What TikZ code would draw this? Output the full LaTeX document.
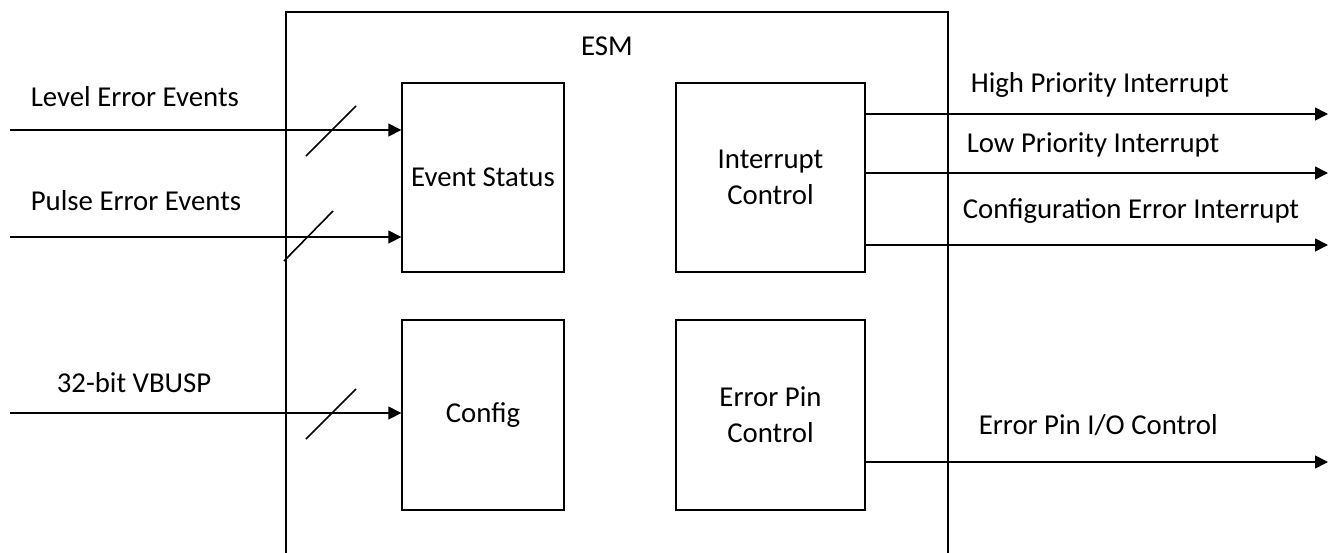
\documentclass[tikz,border=0pt]{standalone}
\usepackage{fontspec}
\setmainfont{Carlito}
\usetikzlibrary{arrows.meta}
\begin{document}
\begin{tikzpicture}[x=1pt,y=-1pt,
  line width=1.6pt,
  fnt/.style={font=\fontsize{28.8}{36}\selectfont},
  blk/.style={draw, line width=1.4pt, inner sep=0pt, align=center, fnt},
  lbl/.style={inner sep=0pt, anchor=west, fnt},
  arr/.style={-{Triangle[length=13pt,width=13pt]}, line width=1.6pt},
  bus/.style={line width=1.6pt}]
\useasboundingbox (0,0) rectangle (1333,552);
\clip (0,0) rectangle (1333,552);
% outer ESM box
\draw[line width=1.6pt] (286,12) rectangle (948,600);
\node[inner sep=0pt, fnt] (esm) at (607,46) {ESM};
% inner blocks
\node[blk, minimum width=162pt, minimum height=189pt] (es) at (483,177.5) {Event Status};
\node[blk, minimum width=189pt, minimum height=189pt] (ic) at (770.5,177.5) {Interrupt\\Control};
\node[blk, minimum width=162pt, minimum height=190pt] (cfg) at (483,415) {Config};
\node[blk, minimum width=189pt, minimum height=190pt] (ep) at (770.5,415) {Error Pin\\Control};
% inputs
\coordinate (in1) at (10,130);
\coordinate (in2) at (10,237);
\coordinate (in3) at (10,413);
\draw[arr] (in1) -- (es.west |- in1);
\draw[arr] (in2) -- (es.west |- in2);
\draw[arr] (in3) -- (cfg.west |- in3);
% bus slashes
\coordinate (s1a) at (306,156); \coordinate (s1b) at (356,106);
\coordinate (s2a) at (284,261); \coordinate (s2b) at (333,211);
\coordinate (s3a) at (306,439); \coordinate (s3b) at (356,389);
\draw[bus] (s1a) -- (s1b);
\draw[bus] (s2a) -- (s2b);
\draw[bus] (s3a) -- (s3b);
% input labels
\node[lbl] (l1) at (30,97) {Level Error Events};
\node[lbl] (l2) at (30,201) {Pulse Error Events};
\node[lbl] (l3) at (56,383) {32-bit VBUSP};
% outputs
\coordinate (o1) at (1328,114);
\coordinate (o2) at (1328,173);
\coordinate (o3) at (1328,245);
\coordinate (o4) at (1328,462);
\draw[arr] (ic.east |- o1) -- (o1);
\draw[arr] (ic.east |- o2) -- (o2);
\draw[arr] (ic.east |- o3) -- (o3);
\draw[arr] (ep.east |- o4) -- (o4);
% output labels
\node[lbl] (r1) at (970,85) {High Priority Interrupt};
\node[lbl] (r2) at (966,145) {Low Priority Interrupt};
\node[lbl] (r3) at (962,211) {Configuration Error Interrupt};
\node[lbl] (r4) at (978,425) {Error Pin I/O Control};
\end{tikzpicture}
\end{document}
